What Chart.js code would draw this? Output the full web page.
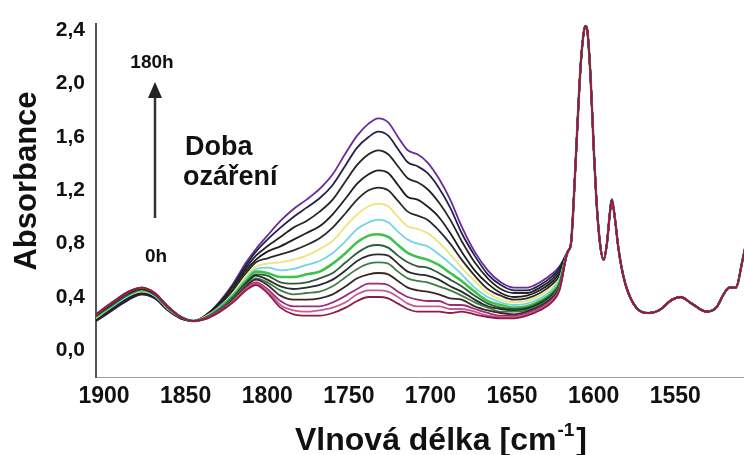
<!DOCTYPE html>
<html>
<head>
<meta charset="utf-8">
<script src="https://cdn.jsdelivr.net/npm/chart.js@4.4.1/dist/chart.umd.min.js"></script>
<style>
  html, body { margin: 0; padding: 0; background: #fff; }
  #c { display: block; }
</style>
</head>
<body>
<canvas id="c" width="744" height="455"></canvas>
<script>
// IR spectra during irradiation, 0h (bottom) -> 180h (top)
const FONT = "'Liberation Sans', Arial, sans-serif";

// wavenumbers where the spectra differ (cm-1)
const waveBand = [1900,1890,1880,1872,1864,1856,1848,1840,1832,1824,1816,1808,1802,1795,1787,1779,1771,1763,1755,1747,
                  1740,1733,1727,1721,1715,1709,1703,1697,1690,1683,1676,1668,1660,1652,1644,1636,1628,1620,1616];
// wavenumbers where all spectra coincide
const waveTail = [1611,1609,1607,1605,1603,1601,1600,1599,1597,1595,1593,1591,1589,1587,1585,1584,1582,1580,1578,1575,
                  1569,1561,1555,1547,1542,1535,1526,1520,1515,1512,1508,1504,1501];
const tailAbs  = [0.74,0.80,1.20,1.70,2.15,2.40,2.43,2.40,2.05,1.50,1.05,0.78,0.68,0.80,1.05,1.13,0.98,0.77,0.62,0.47,
                  0.32,0.28,0.30,0.38,0.40,0.35,0.29,0.32,0.43,0.47,0.47,0.67,0.85];

const s0  = [0.27,0.36,0.44,0.47,0.43,0.33,0.25,0.22,0.24,0.29,0.36,0.45,0.49,0.43,0.32,0.27,0.26,0.26,0.28,0.32,0.37,0.40,0.40,0.39,0.35,0.31,0.29,0.29,0.29,0.28,0.29,0.27,0.25,0.24,0.24,0.26,0.30,0.37,0.45];
const s1  = [0.27,0.36,0.44,0.47,0.43,0.33,0.25,0.22,0.24,0.29,0.37,0.46,0.50,0.45,0.34,0.30,0.29,0.30,0.32,0.36,0.42,0.45,0.45,0.44,0.40,0.35,0.33,0.33,0.33,0.31,0.31,0.29,0.26,0.25,0.25,0.27,0.31,0.38,0.46];
const s2  = [0.27,0.36,0.44,0.47,0.43,0.33,0.25,0.22,0.24,0.30,0.37,0.47,0.51,0.46,0.37,0.33,0.33,0.33,0.36,0.41,0.46,0.50,0.50,0.49,0.44,0.40,0.38,0.37,0.37,0.34,0.34,0.31,0.28,0.26,0.26,0.28,0.32,0.39,0.46];
const s3  = [0.26,0.35,0.43,0.46,0.42,0.33,0.25,0.22,0.24,0.30,0.38,0.48,0.53,0.49,0.41,0.38,0.38,0.39,0.42,0.48,0.54,0.57,0.58,0.57,0.52,0.47,0.45,0.44,0.42,0.39,0.38,0.33,0.30,0.28,0.27,0.29,0.33,0.40,0.47];
const s4  = [0.26,0.35,0.43,0.46,0.42,0.32,0.25,0.22,0.25,0.31,0.39,0.49,0.54,0.51,0.45,0.42,0.43,0.44,0.48,0.55,0.61,0.65,0.66,0.65,0.59,0.54,0.52,0.51,0.48,0.45,0.41,0.36,0.32,0.29,0.29,0.30,0.34,0.41,0.49];
const s5  = [0.26,0.35,0.43,0.46,0.42,0.32,0.25,0.22,0.25,0.31,0.39,0.50,0.56,0.53,0.48,0.46,0.47,0.49,0.53,0.60,0.67,0.71,0.72,0.71,0.65,0.59,0.57,0.56,0.53,0.48,0.44,0.38,0.33,0.31,0.30,0.31,0.35,0.42,0.49];
const s6  = [0.26,0.34,0.42,0.46,0.42,0.32,0.25,0.22,0.25,0.31,0.40,0.51,0.57,0.56,0.51,0.50,0.51,0.54,0.58,0.66,0.73,0.78,0.79,0.77,0.71,0.66,0.63,0.62,0.58,0.53,0.48,0.41,0.35,0.32,0.31,0.32,0.36,0.43,0.50];
const s7  = [0.25,0.34,0.42,0.45,0.42,0.32,0.25,0.22,0.25,0.32,0.41,0.52,0.59,0.58,0.55,0.55,0.57,0.59,0.65,0.73,0.81,0.86,0.87,0.85,0.79,0.73,0.70,0.68,0.64,0.58,0.52,0.44,0.37,0.34,0.32,0.33,0.37,0.44,0.51];
const s8  = [0.25,0.33,0.41,0.45,0.41,0.32,0.25,0.22,0.25,0.33,0.42,0.54,0.61,0.62,0.60,0.61,0.64,0.67,0.73,0.82,0.91,0.96,0.98,0.96,0.89,0.83,0.80,0.78,0.72,0.65,0.57,0.47,0.40,0.36,0.34,0.35,0.39,0.46,0.53];
const s9  = [0.24,0.33,0.41,0.44,0.41,0.31,0.25,0.22,0.26,0.33,0.43,0.56,0.63,0.65,0.66,0.68,0.71,0.76,0.82,0.93,1.02,1.08,1.10,1.08,1.00,0.93,0.91,0.88,0.81,0.72,0.62,0.52,0.43,0.38,0.36,0.37,0.41,0.48,0.54];
const s10 = [0.24,0.32,0.40,0.44,0.41,0.31,0.24,0.22,0.26,0.34,0.45,0.58,0.66,0.69,0.72,0.75,0.79,0.84,0.92,1.03,1.13,1.20,1.22,1.20,1.12,1.04,1.01,0.98,0.90,0.80,0.68,0.56,0.46,0.41,0.38,0.39,0.43,0.50,0.56];
const s11 = [0.23,0.32,0.40,0.43,0.40,0.31,0.24,0.22,0.26,0.35,0.46,0.60,0.68,0.74,0.78,0.83,0.88,0.93,1.02,1.14,1.25,1.32,1.35,1.33,1.24,1.15,1.13,1.08,1.00,0.88,0.74,0.60,0.50,0.43,0.40,0.41,0.45,0.52,0.58];
const s12 = [0.23,0.31,0.39,0.43,0.40,0.31,0.24,0.22,0.27,0.36,0.48,0.62,0.71,0.78,0.85,0.92,0.97,1.04,1.13,1.27,1.39,1.47,1.50,1.47,1.38,1.29,1.26,1.21,1.11,0.98,0.82,0.66,0.54,0.46,0.43,0.43,0.47,0.54,0.60];
const s13 = [0.22,0.30,0.38,0.42,0.39,0.30,0.24,0.22,0.27,0.36,0.49,0.64,0.74,0.83,0.92,1.00,1.07,1.14,1.24,1.39,1.52,1.60,1.64,1.61,1.51,1.41,1.38,1.33,1.22,1.07,0.88,0.71,0.57,0.49,0.45,0.45,0.49,0.56,0.62];
const s14 = [0.22,0.30,0.38,0.42,0.39,0.30,0.24,0.22,0.27,0.37,0.50,0.66,0.76,0.86,0.97,1.06,1.13,1.21,1.32,1.48,1.61,1.70,1.74,1.71,1.60,1.50,1.47,1.41,1.29,1.13,0.93,0.74,0.60,0.51,0.47,0.47,0.51,0.58,0.63];

const spectra = [s0, s1, s2, s3, s4, s5, s6, s7, s8, s9, s10, s11, s12, s13, s14];
const lineColors = ['#8e1c42', '#c65a92', '#9a2c7a', '#3a2626', '#3f7d45', '#2a2a2a', '#2f5c38', '#3fc24c',
                    '#72d6e2', '#f0e27c', '#2a2a2a', '#1f1f1f', '#262626', '#22224e', '#6a2c9c'];

const xTicks = [1900, 1850, 1800, 1750, 1700, 1650, 1600, 1550];
const yTicks = [0, 0.4, 0.8, 1.2, 1.6, 2.0, 2.4];

const allWave = waveBand.concat(waveTail);
const datasets = spectra.map((ys, i) => ({
  label: 'spektrum ' + (i + 1),
  data: allWave.map((w, k) => ({ x: w, y: k < ys.length ? ys[k] : tailAbs[k - ys.length] })),
  borderColor: lineColors[i],
  borderWidth: i === 7 ? 2.6 : 1.8
}));

// arrow, annotation texts and both axis titles
const annotations = {
  id: 'annotations',
  afterDraw(chart) {
    const ctx = chart.ctx;
    ctx.save();
    ctx.strokeStyle = '#333';

    // arrow 0h -> 180h
    ctx.lineWidth = 2.5;
    ctx.beginPath();
    ctx.moveTo(155, 218);
    ctx.lineTo(155, 95);
    ctx.stroke();
    ctx.fillStyle = '#222';
    ctx.beginPath();
    ctx.moveTo(155, 82);
    ctx.lineTo(148, 98);
    ctx.lineTo(162, 98);
    ctx.closePath();
    ctx.fill();

    ctx.fillStyle = '#111';
    ctx.textBaseline = 'alphabetic';
    ctx.textAlign = 'center';
    ctx.font = 'bold 19px ' + FONT;
    ctx.fillText('180h', 152, 68);
    ctx.fillText('0h', 156, 262);

    ctx.textAlign = 'left';
    ctx.font = 'bold 27px ' + FONT;
    ctx.fillText('Doba', 185, 155);
    ctx.fillText('ozáření', 183, 185);

    // y axis title
    ctx.save();
    ctx.translate(36, 181);
    ctx.rotate(-Math.PI / 2);
    ctx.textAlign = 'center';
    ctx.font = 'bold 31px ' + FONT;
    ctx.fillText('Absorbance', 0, 0);
    ctx.restore();

    // x axis title: Vlnová délka [cm-1]
    ctx.textAlign = 'left';
    const main = 'Vlnová délka [cm', sup = '-1', end = ']';
    const bigFont = 'bold 32px ' + FONT, supFont = 'bold 19px ' + FONT;
    ctx.font = bigFont;
    const w1 = ctx.measureText(main).width, w3 = ctx.measureText(end).width;
    ctx.font = supFont;
    const w2 = ctx.measureText(sup).width + 3;
    const x = 441 - (w1 + w2 + w3) / 2;
    const base = 450;
    ctx.font = bigFont;
    ctx.fillText(main, x, base);
    ctx.font = supFont;
    ctx.fillText(sup, x + w1 + 1, base - 14);
    ctx.font = bigFont;
    ctx.fillText(end, x + w1 + w2, base);
    ctx.restore();
  }
};

new Chart(document.getElementById('c'), {
  type: 'line',
  data: { datasets },
  plugins: [annotations],
  options: {
    responsive: false,
    animation: false,
    layout: { padding: { top: 20, left: 0, right: 0, bottom: 0 } },
    plugins: { legend: { display: false }, tooltip: { enabled: false } },
    elements: {
      point: { radius: 0 },
      line: { cubicInterpolationMode: 'monotone' }
    },
    scales: {
      x: {
        type: 'linear',
        reverse: true,
        min: 1503,
        max: 1900,
        afterBuildTicks: s => { s.ticks = xTicks.map(v => ({ value: v })); },
        afterFit: s => { s.height = 78; },
        grid: { display: false, drawTicks: false },
        border: { display: true, color: '#a0a0a0', dash: [2, 2], width: 1 },
        ticks: {
          padding: 6, labelOffset: 8, autoSkip: false, maxRotation: 0,
          color: '#111', font: { family: FONT, size: 23, weight: 'bold' },
          callback: v => String(v)
        }
      },
      y: {
        min: -0.2,
        max: 2.45,
        afterBuildTicks: s => { s.ticks = yTicks.map(v => ({ value: v })); },
        afterFit: s => { s.width = 96; },
        grid: { display: false, drawTicks: false },
        border: { display: true, color: '#555', dash: [1, 2], width: 2 },
        ticks: {
          padding: 11, color: '#111', font: { family: FONT, size: 21, weight: 'bold' },
          callback: v => v.toFixed(1).replace('.', ',')
        },
        title: { display: false, text: 'Absorbance' }
      }
    }
  }
});
</script>
</body>
</html>
